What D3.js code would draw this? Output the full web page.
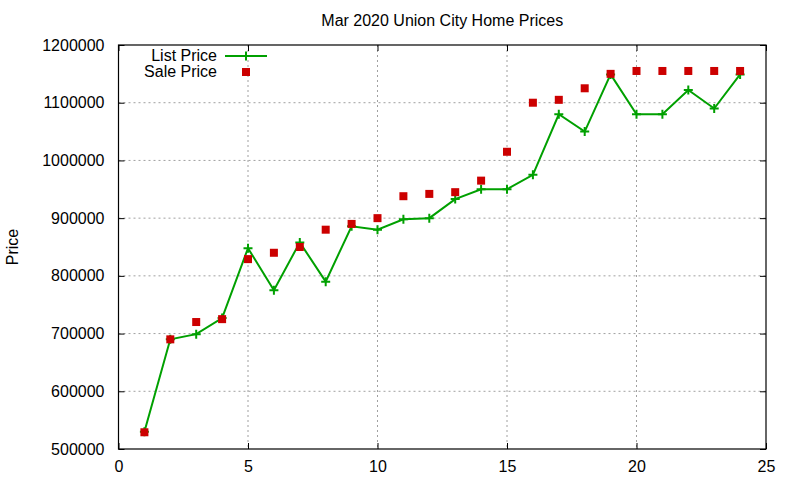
<!DOCTYPE html>
<html><head><meta charset="utf-8">
<script src="https://cdn.jsdelivr.net/npm/d3@7"></script>
<style>body{margin:0;background:#fff}svg{display:block}text{font-family:"Liberation Sans",Arial,sans-serif}</style>
</head><body><svg id="c" width="800" height="480"></svg>
<script>
const days = [1,2,3,4,5,6,7,8,9,10,11,12,13,14,15,16,17,18,19,20,21,22,23,24];
const listPrice = [530000,690000,699000,727000,848000,775000,858000,790000,886000,880000,898000,900000,933000,950000,950000,975000,1080000,1050000,1149000,1080000,1080000,1122000,1090000,1149000];
const salePrice = [529000,690000,720000,725000,829000,840000,850000,880000,890000,900000,938000,942000,945000,965000,1015000,1100000,1105000,1125000,1150000,1155000,1155000,1155000,1155000,1155000];
const xTicks = [0,5,10,15,20,25];
const yTicks = [500000,600000,700000,800000,900000,1000000,1100000,1200000];
const title = "Mar 2020 Union City Home Prices";
const yLabel = "Price";
const seriesNames = ["List Price","Sale Price"];

const svg = d3.select("#c");
const L=118.5, R=766, T=45, B=449;
const x = d3.scaleLinear().domain([0,25]).range([L,R]);
const y = d3.scaleLinear().domain([500000,1200000]).range([B,T]);
const green="#00a000", red="#cc0000";

// grid
const g = svg.append("g");
g.selectAll(".gx").data(xTicks.filter(d=>d>0&&d<25)).join("line")
 .attr("x1",d=>x(d)).attr("x2",d=>x(d)).attr("y1",T).attr("y2",B)
 .attr("stroke","#a0a0a0").attr("stroke-width",1).attr("stroke-dasharray","2,3");
g.selectAll(".gy").data(yTicks.filter(d=>d>500000&&d<1200000)).join("line")
 .attr("y1",d=>y(d)).attr("y2",d=>y(d)).attr("x1",L).attr("x2",R)
 .attr("stroke","#a0a0a0").attr("stroke-width",1).attr("stroke-dasharray","2,3");

// axes
const ax = svg.append("g").attr("transform",`translate(0,${B})`)
 .call(d3.axisBottom(x).tickValues(xTicks).tickSize(-6).tickPadding(12).tickFormat(d3.format("d")));
const axT = svg.append("g").attr("transform",`translate(0,${T})`)
 .call(d3.axisTop(x).tickValues(xTicks).tickSize(-6).tickFormat(""));
const ay = svg.append("g").attr("transform",`translate(${L},0)`)
 .call(d3.axisLeft(y).tickValues(yTicks).tickSize(-6).tickPadding(14).tickFormat(d3.format("d")));
const ayR = svg.append("g").attr("transform",`translate(${R},0)`)
 .call(d3.axisRight(y).tickValues(yTicks).tickSize(-6).tickFormat(""));
[ax,axT,ay,ayR].forEach(a=>{
  a.select(".domain").remove();
  a.selectAll(".tick line").attr("stroke","#000");
  a.selectAll("text").attr("font-size",16).attr("fill","#000").attr("font-family","Liberation Sans, Arial, sans-serif");
});
svg.append("rect").attr("x",L).attr("y",T).attr("width",R-L).attr("height",B-T)
 .attr("fill","none").attr("stroke","#000").attr("stroke-width",1.2);

// title & label
svg.append("text").attr("x",(L+R)/2).attr("y",26).attr("text-anchor","middle").attr("font-size",16).text(title);
svg.append("text").attr("transform","translate(18,247) rotate(-90)").attr("text-anchor","middle").attr("font-size",16).text(yLabel);

// list price line
const line = d3.line().x((d,i)=>x(days[i])).y(d=>y(d));
svg.append("path").datum(listPrice).attr("d",line).attr("fill","none").attr("stroke",green).attr("stroke-width",2);
const plus = (sel)=>sel.append("path").attr("d","M-4.5,0H4.5M0,-4.5V4.5").attr("stroke",green).attr("stroke-width",2);
svg.selectAll(".lp").data(listPrice).join("g").attr("transform",(d,i)=>`translate(${x(days[i])},${y(d)})`).call(plus);

// sale price squares
svg.selectAll(".sp").data(salePrice).join("rect")
 .attr("x",(d,i)=>x(days[i])-4).attr("y",d=>y(d)-4).attr("width",8).attr("height",8).attr("fill",red);

// legend
svg.append("text").attr("x",217).attr("y",61).attr("text-anchor","end").attr("font-size",16).text(seriesNames[0]);
svg.append("text").attr("x",217).attr("y",77).attr("text-anchor","end").attr("font-size",16).text(seriesNames[1]);
svg.append("line").attr("x1",225).attr("x2",267).attr("y1",56).attr("y2",56).attr("stroke",green).attr("stroke-width",2);
svg.append("g").attr("transform","translate(246,56)").call(plus);
svg.append("rect").attr("x",242).attr("y",68).attr("width",8).attr("height",8).attr("fill",red);
</script></body></html>
